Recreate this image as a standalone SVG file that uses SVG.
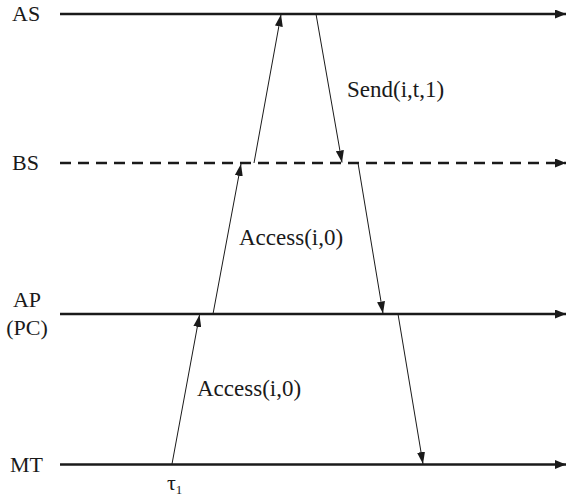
<svg xmlns="http://www.w3.org/2000/svg" width="576" height="499" viewBox="0 0 576 499">
<style>
.lbl{font-family:"Liberation Serif","DejaVu Serif",serif;font-size:22px;fill:#1a1a1a}
.msgl{font-size:23px}
.axis{stroke:#1a1a1a;stroke-width:2.6;fill:none}
.msg{stroke:#1a1a1a;stroke-width:1;fill:none;marker-end:url(#ah)}
</style>
<defs>
<marker id="ah" viewBox="0 0 12 8" refX="12" refY="4" markerWidth="12" markerHeight="8" markerUnits="userSpaceOnUse" orient="auto">
<path d="M0,0 L12,4 L0,8 Z" fill="#1a1a1a"/>
</marker>
<marker id="big" viewBox="0 0 11 9" refX="11" refY="4.5" markerWidth="11" markerHeight="9" markerUnits="userSpaceOnUse" orient="auto">
<path d="M0,0 L11,4.5 L0,9 Z" fill="#1a1a1a"/>
</marker>
</defs>
<g id="AS">
<line class="axis" x1="60" y1="14" x2="566" y2="14" marker-end="url(#big)"/>
<text class="lbl" x="12" y="21">AS</text>
</g>
<g id="BS">
<line class="axis" x1="60" y1="163" x2="566" y2="163" stroke-dasharray="11 7" marker-end="url(#big)"/>
<text class="lbl" x="12" y="170">BS</text>
</g>
<g id="AP">
<line class="axis" x1="60" y1="314" x2="566" y2="314" marker-end="url(#big)"/>
<text class="lbl" x="27" y="307" text-anchor="middle">AP</text>
<text class="lbl" x="27" y="335" text-anchor="middle">(PC)</text>
</g>
<g id="MT">
<line class="axis" x1="60" y1="464.5" x2="566" y2="464.5" marker-end="url(#big)"/>
<text class="lbl" x="10" y="472">MT</text>
</g>
<g id="connectors">
<line class="msg" x1="172" y1="464" x2="199.5" y2="315"/>
<line class="msg" x1="213" y1="314" x2="241" y2="164"/>
<line class="msg" x1="254" y1="163" x2="281" y2="14.5"/>
<line class="msg" x1="316" y1="14" x2="342" y2="162.5"/>
<line class="msg" x1="358" y1="163" x2="383" y2="313.5"/>
<line class="msg" x1="398" y1="314" x2="423" y2="464"/>
</g>
<g id="labels">
<text class="lbl msgl" x="347" y="97">Send(i,t,1)</text>
<text class="lbl msgl" x="239" y="245">Access(i,0)</text>
<text class="lbl msgl" x="197" y="396">Access(i,0)</text>
<text class="lbl" x="167" y="490">τ<tspan font-size="13" dy="4">1</tspan></text>
</g>
</svg>
